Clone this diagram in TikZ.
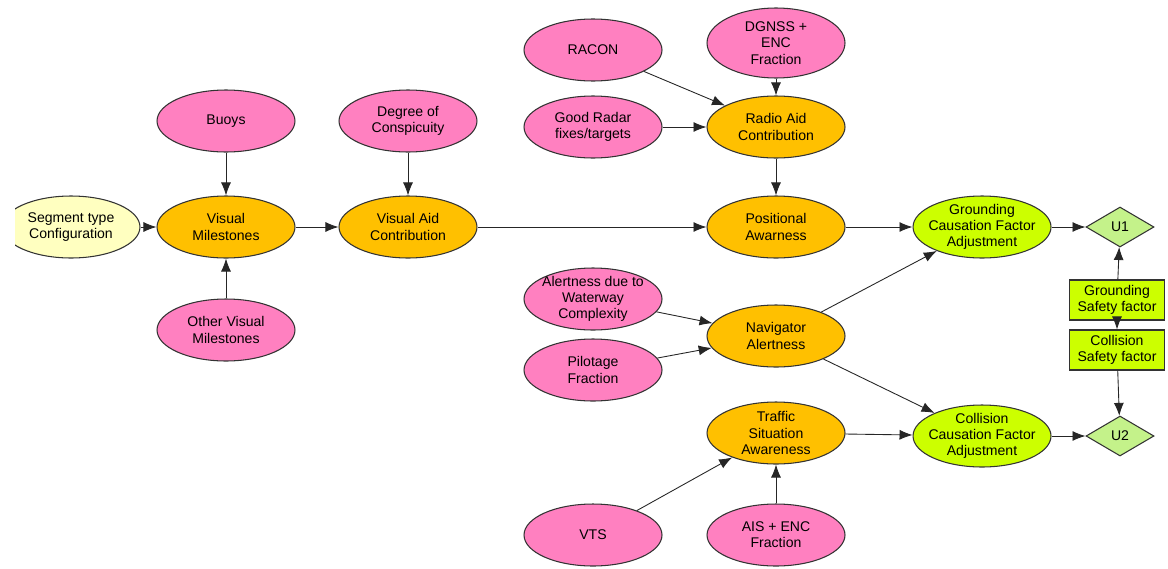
\documentclass[tikz,border=0pt]{standalone}
\usepackage{fontspec}
\setmainfont{Liberation Sans}
\usetikzlibrary{shapes.geometric,arrows.meta}
\definecolor{pinkfill}{HTML}{FF80C0}
\definecolor{orangefill}{HTML}{FFC000}
\definecolor{limefill}{HTML}{CCFF00}
\definecolor{paleyellow}{HTML}{FFFFC0}
\definecolor{palegreen}{HTML}{C4F28A}
\tikzstyle{chance}               = [ellipse,draw=black!80,line width=0.6pt,
                                    minimum width=2.76cm,minimum height=1.24cm,
                                    inner xsep=-1mm,inner ysep=-0.6mm,align=center,
                                    font=\fontsize{8}{9.2}\selectfont]
\tikzstyle{input}                = [chance,fill=pinkfill]
\tikzstyle{inter}                = [chance,fill=orangefill]
\tikzstyle{adjust}               = [chance,fill=limefill]
\tikzstyle{utility}              = [diamond,draw=black!80,fill=palegreen,line width=0.6pt,
                                    minimum width=1.36cm,minimum height=0.8cm,inner sep=0pt,
                                    font=\fontsize{8}{9.2}\selectfont]
\tikzstyle{factor}               = [rectangle,draw=black!80,fill=limefill,line width=0.6pt,
                                    minimum width=1.9cm,minimum height=0.8cm,inner sep=0pt,
                                    align=center,font=\fontsize{8}{9.2}\selectfont]
\tikzset{link/.style={draw=black!85,line width=0.5pt,-{Latex[length=2.6mm,width=2mm]}}}

\begin{document}
\begin{tikzpicture}[x=0.02cm,y=-0.02cm]
        \useasboundingbox[fill=white] (0,0) rectangle (1168,568);

        % Left part
        \begin{scope}
            \clip (15,0) rectangle (1168,568);
            \node[chance,fill=paleyellow] (seg) at (71,227) {Segment type\\Configuration};
        \end{scope}
        \node[input] (buoys)   at (226,121) {Buoys};
        \node[inter] (vismile) at (226,227) {Visual\\Milestones};
        \node[input] (othervm) at (226,330) {Other Visual\\Milestones};
        \node[input] (consp)   at (408,121) {Degree of\\Conspicuity};
        \node[inter] (visaid)  at (408,227) {Visual Aid\\Contribution};

        % Radio aids
        \node[input] (racon)   at (593,50)  {RACON};
        \node[input,minimum height=1.4cm] (dgnss) at (776,43) {DGNSS +\\ENC\\Fraction};
        \node[input] (radar)   at (593,127) {Good Radar\\fixes/targets};
        \node[inter] (radio)   at (776,127) {Radio Aid\\Contribution};
        \node[inter] (posit)   at (776,227) {Positional\\Awarness};

        % Alertness and traffic
        \node[input] (waterway) at (593,299) {Alertness due to\\Waterway\\Complexity};
        \node[input] (pilot)    at (593,370) {Pilotage\\Fraction};
        \node[inter] (navig)    at (776,336) {Navigator\\Alertness};
        \node[inter] (traffic)  at (776,433) {Traffic\\Situation\\Awareness};
        \node[input] (vts)      at (593,535) {VTS};
        \node[input] (ais)      at (776,535) {AIS + ENC\\Fraction};

        % Adjustments and utilities
        \node[adjust] (ground)  at (982,227) {Grounding\\Causation Factor\\Adjustment};
        \node[adjust] (collis)  at (982,436) {Collision\\Causation Factor\\Adjustment};
        \node[utility] (uone)   at (1120,227) {U1};
        \node[utility] (utwo)   at (1120,436) {U2};
        \node[factor] (groundsf) at (1117,300) {Grounding\\Safety factor};
        \node[factor] (collissf) at (1117,350) {Collision\\Safety factor};

        \draw[link] (seg) -- (vismile);
        \draw[link] (buoys) -- (vismile);
        \draw[link] (othervm) -- (vismile);
        \draw[link] (vismile) -- (visaid);
        \draw[link] (consp) -- (visaid);
        \draw[link] (visaid) -- (posit);
        \draw[link] (racon) -- (radio);
        \draw[link] (dgnss) -- (radio);
        \draw[link] (radar) -- (radio);
        \draw[link] (radio) -- (posit);
        \draw[link] (posit) -- (ground);
        \draw[link] (waterway) -- (navig);
        \draw[link] (pilot) -- (navig);
        \draw[link] (navig) -- (ground);
        \draw[link] (navig) -- (collis);
        \draw[link] (traffic) -- (collis);
        \draw[link] (vts) -- (traffic);
        \draw[link] (ais) -- (traffic);
        \draw[link] (ground) -- (uone);
        \draw[link] (collis) -- (utwo);
        \draw[link] (groundsf) -- (uone);
        \draw[link] (groundsf) -- (collissf);
        \draw[link] (collissf) -- (utwo);
    \end{tikzpicture}
\end{document}
